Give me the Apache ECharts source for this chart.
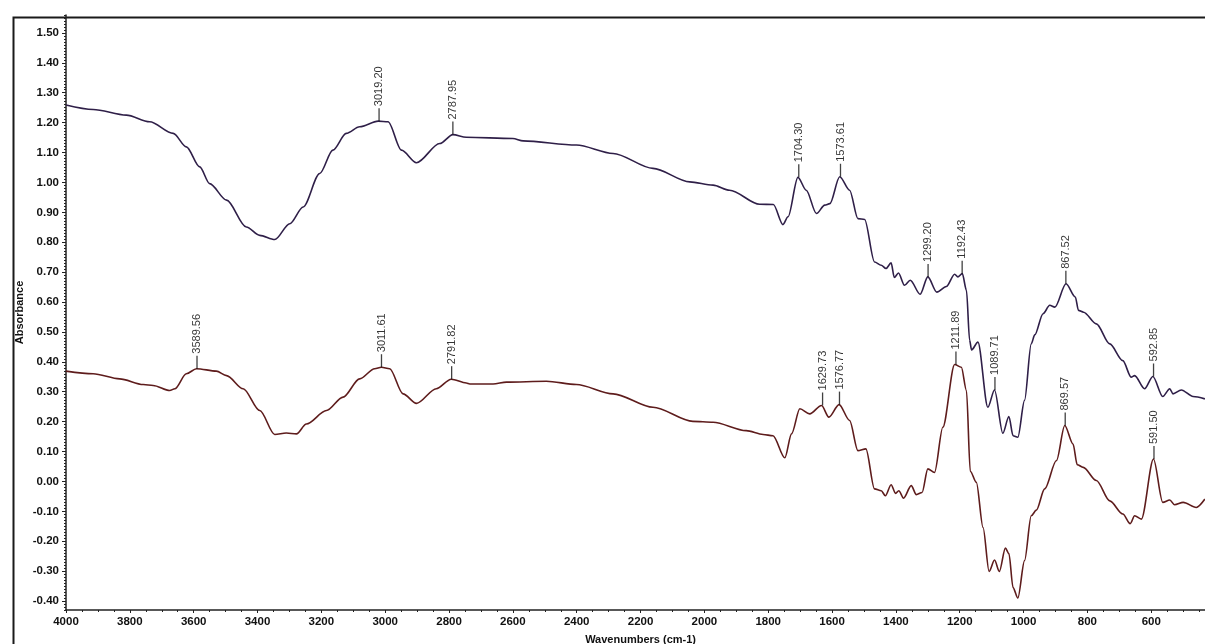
<!DOCTYPE html>
<html><head><meta charset="utf-8">
<script src="https://cdn.jsdelivr.net/npm/echarts@6/dist/echarts.min.js"></script>
<style>html,body{margin:0;padding:0;background:#fff}#c{width:1205px;height:644px}</style>
</head><body><div id="c"></div>
<script>
// Upper spectrum (purple)
const upperWN=[4000,3915,3811,3738,3664,3623,3581,3550,3497,3435,3393,3346,3299,3257,3205,3164,3122,3080,3022,2991,2949,2902,2829,2788,2746,2600,2568,2401,2286,2161,2046,1973,1921,1827,1784,1754,1738,1707,1681,1649,1623,1607,1576,1545,1519,1498,1467,1446,1431,1415,1405,1392,1373,1355,1324,1300,1272,1242,1216,1206,1192,1179,1169,1163,1143,1112,1091,1065,1046,1033,1018,997,976,965,939,918,902,867,838,828,812,772,730,689,663,652,621,595,564,542,532,506,469,432];
const upperAbs=[1.259,1.244,1.225,1.203,1.164,1.119,1.052,0.996,0.941,0.851,0.823,0.809,0.862,0.918,1.030,1.108,1.164,1.186,1.205,1.203,1.108,1.066,1.130,1.160,1.151,1.147,1.139,1.125,1.097,1.047,1.002,0.991,0.974,0.927,0.926,0.859,0.885,1.017,0.974,0.896,0.924,0.929,1.019,0.974,0.879,0.876,0.734,0.723,0.712,0.731,0.682,0.697,0.656,0.673,0.626,0.684,0.633,0.652,0.693,0.684,0.695,0.639,0.472,0.440,0.466,0.248,0.306,0.161,0.217,0.153,0.148,0.271,0.460,0.490,0.561,0.589,0.583,0.661,0.617,0.572,0.566,0.527,0.460,0.404,0.349,0.354,0.310,0.351,0.284,0.310,0.293,0.306,0.284,0.276];
// Lower spectrum (maroon)
const lowerWN=[4000,3915,3832,3758,3727,3675,3659,3623,3591,3529,3497,3445,3393,3346,3310,3278,3247,3184,3132,3080,3033,3012,2986,2944,2902,2840,2793,2746,2735,2662,2620,2495,2401,2286,2161,2036,1973,1869,1816,1785,1748,1727,1701,1670,1633,1610,1578,1545,1519,1494,1467,1446,1433,1415,1401,1391,1376,1352,1336,1318,1300,1279,1253,1216,1195,1179,1167,1148,1127,1108,1091,1076,1057,1046,1033,1018,997,976,960,934,897,871,845,832,813,772,730,689,666,652,631,593,564,542,527,500,459,432];
const lowerAbs=[0.369,0.360,0.343,0.324,0.321,0.304,0.310,0.360,0.377,0.369,0.354,0.310,0.237,0.157,0.162,0.159,0.192,0.237,0.282,0.343,0.377,0.382,0.377,0.293,0.261,0.310,0.342,0.329,0.326,0.326,0.332,0.335,0.324,0.293,0.248,0.201,0.198,0.170,0.157,0.153,0.079,0.159,0.243,0.226,0.254,0.215,0.257,0.204,0.103,0.109,-0.025,-0.031,-0.048,-0.011,-0.040,-0.031,-0.056,-0.014,-0.044,-0.037,0.042,0.030,0.181,0.391,0.382,0.304,0.034,-0.003,-0.154,-0.301,-0.263,-0.301,-0.223,-0.241,-0.355,-0.390,-0.265,-0.115,-0.096,-0.025,0.070,0.187,0.125,0.056,0.047,0.003,-0.065,-0.109,-0.141,-0.115,-0.126,0.075,-0.070,-0.062,-0.078,-0.070,-0.087,-0.059];
// Peak annotations
const upperPeakLabels=['3019.20','2787.95','1704.30','1573.61','1299.20','1192.43','1089.71','867.52','592.85'];
const upperPeakWN=[3019.2,2787.95,1704.3,1573.61,1299.2,1192.43,1089.71,867.52,592.85];
const upperPeakAbs=[1.205,1.160,1.017,1.019,0.684,0.695,0.306,0.661,0.351];
const lowerPeakLabels=['3589.56','3011.61','2791.82','1629.73','1576.77','1211.89','869.57','591.50'];
const lowerPeakWN=[3589.56,3011.61,2791.82,1629.73,1576.77,1211.89,869.57,591.5];
const lowerPeakAbs=[0.377,0.382,0.342,0.254,0.257,0.391,0.187,0.075];
// Tick labels
const xTickLabels=[4000,3800,3600,3400,3200,3000,2800,2600,2400,2200,2000,1800,1600,1400,1200,1000,800,600];
const yTickLabels=[-0.4,-0.3,-0.2,-0.1,0,0.1,0.2,0.3,0.4,0.5,0.6,0.7,0.8,0.9,1.0,1.1,1.2,1.3,1.4,1.5];

const FONT="'Liberation Sans Narrow','Liberation Sans',Arial,sans-serif";
const zip=(a,b)=>a.map((v,i)=>[v,b[i]]);
const peakSeries=(labels,wn,ab)=>({
  type:'scatter', xAxisIndex:0, yAxisIndex:0, silent:true, z:5,
  symbol:'rect', symbolSize:[1.3,13], symbolOffset:[0,-6.5],
  itemStyle:{color:'#111'},
  data:wn.map((w,i)=>({value:[w,ab[i]],name:labels[i]})),
  label:{show:true, formatter:p=>p.name, position:'top', distance:2, rotate:90,
    align:'left', verticalAlign:'middle', color:'#000', fontSize:11, fontFamily:"'Liberation Sans',Arial,sans-serif"}
});

const chart=echarts.init(document.getElementById('c'),null,{renderer:'canvas'});
chart.setOption({
  animation:false,
  backgroundColor:'#fff',
  graphic:[{type:'rect',left:11,top:15,shape:{width:1220,height:660},style:{fill:'none',stroke:'#1a1a1a',lineWidth:2},silent:true}],
  grid:{left:66,top:15,width:1149.1,height:595,outerBoundsMode:'none',containLabel:false},
  xAxis:[{
    type:'value', inverse:true, min:400, max:4000, interval:200,
    name:'Wavenumbers (cm-1)', nameLocation:'middle', nameGap:24, nameMoveOverlap:false,
    nameTextStyle:{color:'#111',fontWeight:'bold',fontSize:11,fontFamily:FONT},
    axisLine:{show:true,onZero:false,lineStyle:{color:'#222',width:1.5}},
    axisTick:{show:true,length:3,lineStyle:{color:'#222',width:1}},
    minorTick:{show:true,splitNumber:4,length:2,lineStyle:{color:'#222'}},
    axisLabel:{customValues:xTickLabels,formatter:v=>String(v),margin:6,color:'#111',fontWeight:'bold',fontSize:11.5,fontFamily:FONT},
    splitLine:{show:false}
  }],
  yAxis:[{
    type:'value', min:-0.43, max:1.56, position:'left',
    name:'Absorbance', nameLocation:'middle', nameGap:41, nameRotate:90, nameMoveOverlap:false,
    nameTextStyle:{color:'#111',fontWeight:'bold',fontSize:11,fontFamily:FONT},
    axisLine:{show:true,onZero:false,lineStyle:{color:'#222',width:1.5}},
    axisTick:{show:true,length:4,customValues:yTickLabels,lineStyle:{color:'#222',width:1}},
    axisLabel:{customValues:yTickLabels,formatter:v=>v.toFixed(2),margin:7,color:'#111',fontWeight:'bold',fontSize:11.5,fontFamily:FONT},
    splitLine:{show:false}
  },{
    type:'value', min:-0.43, max:1.56, interval:0.01, position:'left', offset:0,
    axisLine:{show:false}, axisLabel:{show:false}, splitLine:{show:false},
    axisTick:{show:true,length:2,lineStyle:{color:'#222',width:1}}
  }],
  series:[
    {type:'line', name:'upper', data:zip(upperWN,upperAbs), showSymbol:false, silent:true,
     smooth:0.3, smoothMonotone:'x', lineStyle:{color:'#2f1f48',width:1.6}, z:3},
    {type:'line', name:'lower', data:zip(lowerWN,lowerAbs), showSymbol:false, silent:true,
     smooth:0.3, smoothMonotone:'x', lineStyle:{color:'#5e1c1c',width:1.6}, z:3},
    peakSeries(upperPeakLabels,upperPeakWN,upperPeakAbs),
    peakSeries(lowerPeakLabels,lowerPeakWN,lowerPeakAbs)
  ]
});
</script></body></html>
